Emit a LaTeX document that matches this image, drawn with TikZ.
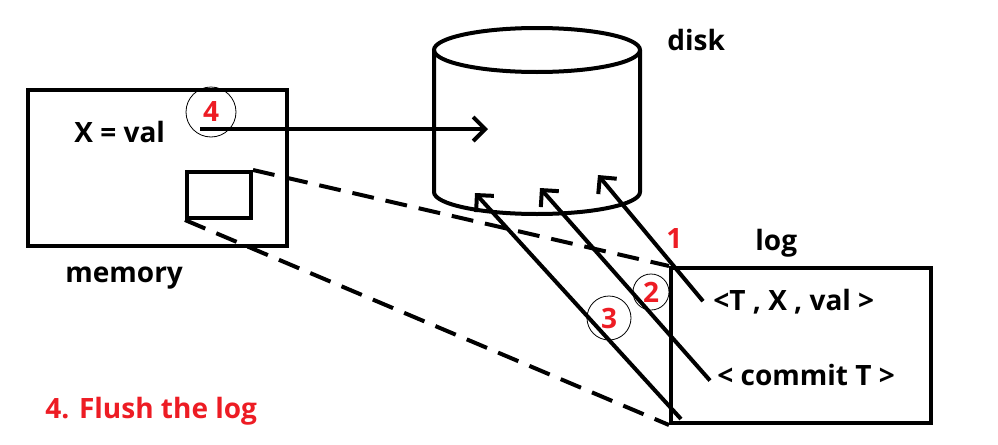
\documentclass[tikz,border=0pt]{standalone}
\usepackage{fontspec}
\setmainfont{Open Sans}
\usetikzlibrary{positioning,arrows.meta}
\definecolor{paintred}{RGB}{237,28,36}

\begin{document}
\begin{tikzpicture}[x=0.5pt,y=-0.5pt,
	font=\fontsize{14pt}{16pt}\selectfont\bfseries,
	bstyle/.style={draw, line width=2pt, inner sep=0pt},
	lstyle/.style={inner sep=0pt, anchor=base west},
	nstyle/.style={circle, draw, line width=0.4pt, inner sep=0pt, 
	text=paintred},
	astyle/.style={line width=2pt, -{Straight Barb[length=6pt,width=12pt]}},
	dstyle/.style={line width=2pt, dash pattern=on 11pt off 6pt}
	]
	\useasboundingbox (0,0) rectangle (998,445);
	
	\node[bstyle, minimum width=129.5pt, minimum height=78pt] (mem) at (157.5,168) {};
	\node[bstyle, minimum width=32pt, minimum height=23pt] (buf) at (219,195) {};
	\node[bstyle, minimum width=130pt, minimum height=77.5pt] (log) at (801,345.5) {};
	
	\node[lstyle] (x) at (74,142) {X = val};
	\node[lstyle] (memlab) at (65,282) {memory};
	\node[lstyle] (disklab) at (667,50) {disk};
	\node[lstyle] (loglab) at (755,250) {log};
	\node[lstyle] (ent1) at (713,310) {<T , X , val >};
	\node[lstyle] (ent2) at (717,385) {< commit T >};
	\node[lstyle, text=paintred] (flush) at (45,418) {4. Flush the log};
	
	\draw[line width=2pt] (537,50) ellipse [x radius=51.5pt, y radius=11pt];
	\draw[line width=2pt] (434,50) -- (434,192) 
	arc [start angle=180, end angle=360, x radius=51.5pt, y radius=11pt] -- (640,50);
	
	\coordinate (t1) at (598,175);
	\coordinate (t2) at (540,188);
	\coordinate (t3) at (475,193);
	\coordinate (t4) at (488,129);
	\coordinate (src) at (200,129);
	
	\draw[dstyle] (buf.north east) to (log.north west);
	\draw[dstyle] (buf.south west) to (log.south west);
	
	\node[nstyle, minimum size=25pt] (c4) at (211,112) {4};
	\node[nstyle, minimum size=18pt] (c2) at (651,292) {2};
	\node[nstyle, minimum size=22pt] (c3) at (609,318) {3};
	\node[lstyle, text=paintred] (n1) at (666,248) {1};
	
	\draw[astyle] (src) to (t4);
	\draw[astyle] ([xshift=-5pt]ent1.west) to (t1);
	\draw[astyle] ([xshift=-3.5pt,yshift=-3pt]ent2.west) to (t2);
	\draw[astyle] ([xshift=6pt,yshift=3pt]log.south west) to (t3);
\end{tikzpicture}
\end{document}
